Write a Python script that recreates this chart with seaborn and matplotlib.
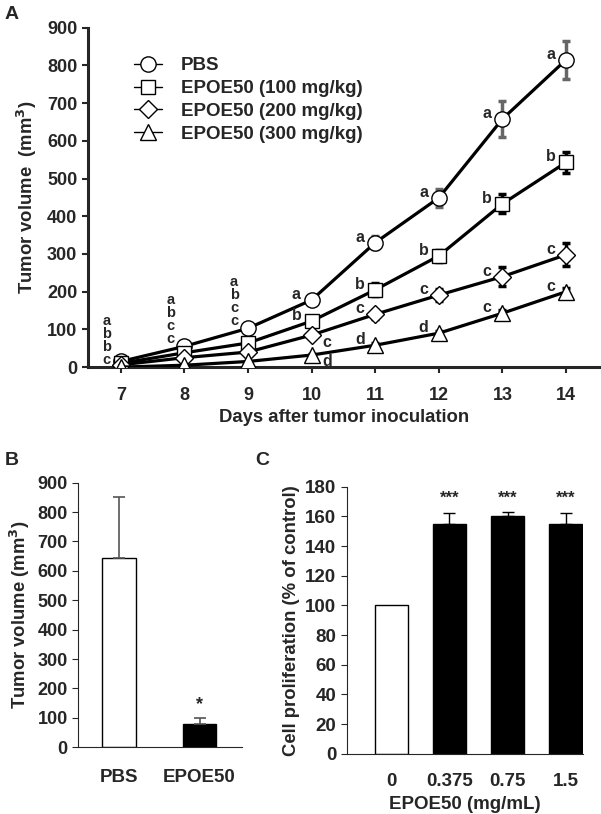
import pandas as pd
import matplotlib
matplotlib.use('Agg')
import matplotlib.pyplot as plt
import seaborn as sns

# ---- data (panel A) ----
days = [7, 8, 9, 10, 11, 12, 13, 14]
groups = ['PBS', 'EPOE50 (100 mg/kg)', 'EPOE50 (200 mg/kg)', 'EPOE50 (300 mg/kg)']
pbs = [15, 55, 103, 178, 330, 449, 658, 815]
pbs_err = [3, 5, 6, 8, 17, 24, 48, 50]
dose100 = [10, 38, 64, 122, 205, 295, 433, 543]
dose100_err = [2, 4, 5, 8, 17, 15, 25, 27]
dose200 = [6, 25, 40, 85, 140, 191, 240, 298]
dose200_err = [2, 3, 4, 6, 12, 15, 25, 30]
dose300 = [0, 5, 15, 32, 58, 90, 143, 200]
dose300_err = [1, 2, 3, 4, 5, 6, 8, 10]
letters_pbs = ['a', 'a', 'a', 'a', 'a', 'a', 'a', 'a']
letters_100 = ['b', 'b', 'b', 'b', 'b', 'b', 'b', 'b']
letters_200 = ['b', 'c', 'c', 'c', 'c', 'c', 'c', 'c']
letters_300 = ['c', 'c', 'c', 'd', 'd', 'd', 'c', 'c']

# ---- data (panel B) ----
b_groups = ['PBS', 'EPOE50']
b_vals = [643, 78]
b_err = [210, 22]
b_sig = ['', '*']

# ---- data (panel C) ----
c_doses = ['0', '0.375', '0.75', '1.5']
c_vals = [100, 155, 160, 155]
c_err = [0, 7, 3, 7]
c_sig = ['', '***', '***', '***']

sns.set_style('ticks')
plt.rcParams['font.family'] = ['Liberation Sans', 'DejaVu Sans']
plt.rcParams['font.weight'] = 'bold'
plt.rcParams['axes.labelweight'] = 'bold'

fig = plt.figure(figsize=(6.01, 8.14), dpi=100)

# ================= Panel A =================
ax = fig.add_axes([0.146, 0.549, 0.852, 0.417])
series = [pbs, dose100, dose200, dose300]
errs = [pbs_err, dose100_err, dose200_err, dose300_err]
letters = [letters_pbs, letters_100, letters_200, letters_300]
markers = ['o', 's', 'D', '^']
msizes = [11, 10, 9, 12]
err_colors = ['#666666', 'black', 'black', 'black']

for g, vals, e, m, ms, ec in zip(groups, series, errs, markers, msizes, err_colors):
    df = pd.DataFrame({'day': days, 'vol': vals})
    ax.errorbar(days[3:], vals[3:], yerr=e[3:], fmt='none', ecolor=ec,
                elinewidth=2.5, capsize=3, capthick=2.5, zorder=2)
    sns.lineplot(data=df, x='day', y='vol', ax=ax, color='black', linewidth=2.3,
                 marker=m, markersize=ms, markerfacecolor='white',
                 markeredgecolor='black', markeredgewidth=1.0, label=g, zorder=3)

# significance letters
for i, d in enumerate(days):
    if d <= 9:
        # stacked letters for the early days, one text block
        stack = '\n'.join(letters[k][i] for k in range(4))
        base = -4 if d == 7 else 0
        ax.annotate(stack, (d, pbs[i]), xytext=(-10, base),
                    textcoords='offset points', ha='center', va='bottom',
                    fontsize=10.5, fontweight='bold', linespacing=0.92)
    else:
        for k in range(4):
            if d == 10 and k >= 2:
                off = (11, -5)
            else:
                off = (-11, 4)
            ax.annotate(letters[k][i], (d, series[k][i]), xytext=off,
                        textcoords='offset points', ha='center', va='center',
                        fontsize=11.5, fontweight='bold')

ax.set_xlim(6.48, 14.53)
ax.set_ylim(0, 900)
ax.set_xticks(days)
ax.set_yticks(range(0, 901, 100))
ax.set_xlabel('Days after tumor inoculation', fontsize=13.3, labelpad=4)
ax.set_ylabel('Tumor volume  (mm$^\\mathbf{3}$)', fontsize=13.3, labelpad=6)
for s in ['top', 'right']:
    ax.spines[s].set_visible(False)
for s in ['left', 'bottom']:
    ax.spines[s].set_linewidth(2.2)
ax.tick_params(axis='both', labelsize=13, width=1.5, length=4)
ax.tick_params(axis='x', pad=10)
leg = ax.legend(loc='upper left', bbox_to_anchor=(0.075, 0.935), frameon=False,
                fontsize=13.5, handlelength=1.5, handletextpad=1.0, labelspacing=0.3,
                borderaxespad=0)
for h in leg.legend_handles:
    h.set_linewidth(1.0)
fig.text(0.008, 0.993, 'A', fontsize=14, fontweight='bold', va='top')

# ================= Panel B =================
axb = fig.add_axes([0.13, 0.082, 0.273, 0.325])
dfb = pd.DataFrame({'group': b_groups, 'vol': b_vals})
sns.barplot(data=dfb, x='group', y='vol', hue='group', palette=['white', 'black'],
            edgecolor='black', linewidth=1.0, width=0.42, legend=False, ax=axb)
axb.errorbar(range(len(b_vals)), b_vals, yerr=[[0] * len(b_err), b_err], fmt='none',
             ecolor='#555555', elinewidth=1.2, capsize=4, capthick=1.2)
for i, s in enumerate(b_sig):
    if s:
        axb.text(i, b_vals[i] + b_err[i] + 15, s, ha='center', va='bottom', fontsize=13)
axb.set_xlim(-0.51, 1.53)
axb.set_ylim(0, 900)
axb.set_yticks(range(0, 901, 100))
axb.set_xlabel('')
axb.set_ylabel('Tumor volume (mm$^\\mathbf{3}$)', fontsize=13.3, labelpad=4)
for s in ['top', 'right']:
    axb.spines[s].set_visible(False)
axb.spines['left'].set_linewidth(0.8)
axb.spines['bottom'].set_linewidth(0.8)
axb.tick_params(axis='y', labelsize=13, width=0.8, length=4)
axb.tick_params(axis='x', labelsize=13.5, length=0, pad=16)
fig.text(0.008, 0.445, 'B', fontsize=14, fontweight='bold', va='top')

# ================= Panel C =================
axc = fig.add_axes([0.577, 0.074, 0.393, 0.328])
dfc = pd.DataFrame({'dose': c_doses, 'prolif': c_vals})
sns.barplot(data=dfc, x='dose', y='prolif', hue='dose',
            palette=['white', 'black', 'black', 'black'],
            edgecolor='black', linewidth=1.0, width=0.57, legend=False, ax=axc)
axc.errorbar(range(1, len(c_vals)), c_vals[1:], yerr=[[0] * 3, c_err[1:]], fmt='none',
             ecolor='black', elinewidth=1.0, capsize=4, capthick=1.0)
for i, s in enumerate(c_sig):
    if s:
        axc.text(i, 167, s, ha='center', va='bottom', fontsize=12)
axc.set_xlim(-0.77, 3.3)
axc.set_ylim(0, 180)
axc.set_yticks(range(0, 181, 20))
axc.set_xlabel('EPOE50 (mg/mL)', fontsize=13.5, labelpad=4)
axc.set_ylabel('Cell proliferation (% of control)', fontsize=13.3, labelpad=4)
for s in ['top', 'right']:
    axc.spines[s].set_visible(False)
axc.spines['left'].set_linewidth(0.8)
axc.spines['bottom'].set_linewidth(0.8)
axc.tick_params(axis='y', labelsize=13.5, width=0.8, length=4)
axc.tick_params(axis='x', labelsize=13.5, length=0, pad=14)
fig.text(0.425, 0.445, 'C', fontsize=14, fontweight='bold', va='top')

fig.savefig('out.png', dpi=100)
